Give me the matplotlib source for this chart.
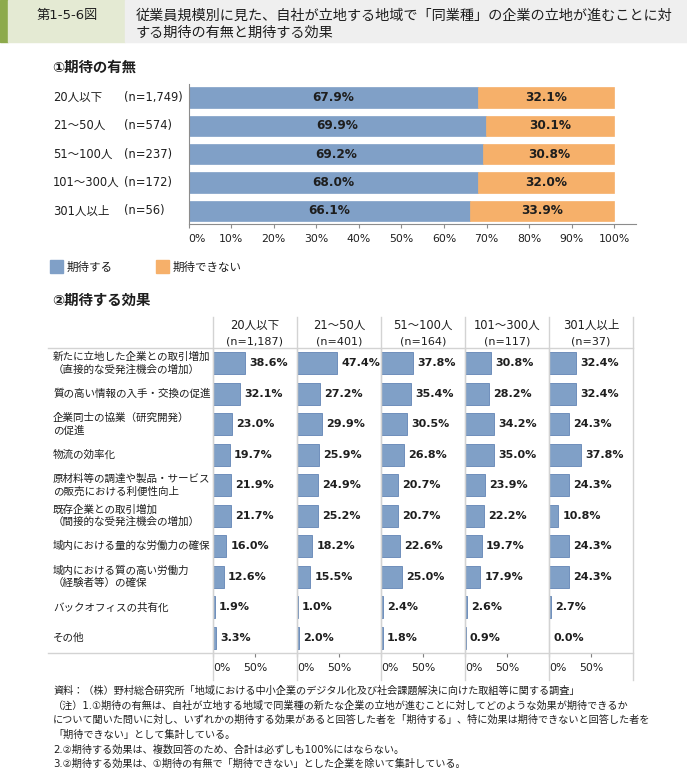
import numpy as np
import matplotlib
matplotlib.use("Agg")
import matplotlib.pyplot as plt
from matplotlib.patches import Rectangle
from matplotlib.lines import Line2D
from matplotlib.transforms import blended_transform_factory

plt.rcParams['font.family'] = ['DejaVu Sans', 'Noto Sans CJK JP']

# ---- データ ----
sizes = ['20人以下', '21～50人', '51～100人', '101～300人', '301人以上']
n_top = ['(n=1,749)', '(n=574)', '(n=237)', '(n=172)', '(n=56)']
expect = [67.9, 69.9, 69.2, 68.0, 66.1]
not_expect = [32.1, 30.1, 30.8, 32.0, 33.9]

n_bottom = ['(n=1,187)', '(n=401)', '(n=164)', '(n=117)', '(n=37)']
effects = [
    '新たに立地した企業との取引増加\n（直接的な受発注機会の増加）',
    '質の高い情報の入手・交換の促進',
    '企業同士の協業（研究開発）\nの促進',
    '物流の効率化',
    '原材料等の調達や製品・サービス\nの販売における利便性向上',
    '既存企業との取引増加\n（間接的な受発注機会の増加）',
    '域内における量的な労働力の確保',
    '域内における質の高い労働力\n（経験者等）の確保',
    'バックオフィスの共有化',
    'その他',
]
eff_20 = [38.6, 32.1, 23.0, 19.7, 21.9, 21.7, 16.0, 12.6, 1.9, 3.3]
eff_21_50 = [47.4, 27.2, 29.9, 25.9, 24.9, 25.2, 18.2, 15.5, 1.0, 2.0]
eff_51_100 = [37.8, 35.4, 30.5, 26.8, 20.7, 20.7, 22.6, 25.0, 2.4, 1.8]
eff_101_300 = [30.8, 28.2, 34.2, 35.0, 23.9, 22.2, 19.7, 17.9, 2.6, 0.9]
eff_301 = [32.4, 32.4, 24.3, 37.8, 24.3, 10.8, 24.3, 24.3, 2.7, 0.0]
eff_all = [eff_20, eff_21_50, eff_51_100, eff_101_300, eff_301]

title = ('従業員規模別に見た、自社が立地する地域で「同業種」の企業の立地が進むことに対\n'
         'する期待の有無と期待する効果')
notes = [
    '資料：（株）野村総合研究所「地域における中小企業のデジタル化及び社会課題解決に向けた取組等に関する調査」',
    '（注）1.①期待の有無は、自社が立地する地域で同業種の新たな企業の立地が進むことに対してどのような効果が期待できるか',
    'について聞いた問いに対し、いずれかの期待する効果があると回答した者を「期待する」、特に効果は期待できないと回答した者を',
    '「期待できない」として集計している。',
    '2.②期待する効果は、複数回答のため、合計は必ずしも100%にはならない。',
    '3.②期待する効果は、①期待の有無で「期待できない」とした企業を除いて集計している。',
]

BLUE = '#80A0C7'
BLUE_EDGE = '#6F8EBB'
ORANGE = '#F6B06A'
TXT = '#1E1E1E'

W, H = 687, 774
fig = plt.figure(figsize=(W / 100, H / 100), dpi=100)


def fx(x):
    return x / W


def fy(y):
    return 1 - y / H


def rect(x0, y0, x1, y1):
    return [x0 / W, 1 - y1 / H, (x1 - x0) / W, (y1 - y0) / H]


def add_box(x0, y0, x1, y1, color):
    fig.patches.append(Rectangle((fx(x0), fy(y1)), (x1 - x0) / W, (y1 - y0) / H,
                                 transform=fig.transFigure, color=color, zorder=0))


def add_line(xs, ys, color='#D3D3D3', lw=1.0):
    fig.lines.append(Line2D([fx(x) for x in xs], [fy(y) for y in ys],
                            transform=fig.transFigure, color=color, lw=lw, zorder=0))


# ---- ヘッダー ----
add_box(0, 0, 8, 42, '#8DAA4C')
add_box(8, 0, 125, 42, '#E4EAD3')
add_box(125, 0, 687, 42, '#EFEFEF')
fig.text(fx(67), fy(15), '第1-5-6図', ha='center', va='center', fontsize=9.5, color=TXT)
fig.text(fx(136), fy(24), title, ha='left', va='center', fontsize=10.2, color=TXT,
         linespacing=1.3)

# ---- ①期待の有無 ----
fig.text(fx(52), fy(68), '①期待の有無', ha='left', va='center', fontsize=10.4,
         fontweight='bold', color=TXT)

ax1 = fig.add_axes(rect(188.5, 84, 636, 224))
y = np.arange(len(sizes))
ax1.barh(y, expect, height=0.72, color=BLUE, edgecolor=BLUE, lw=0.5)
ax1.barh(y, not_expect, left=expect, height=0.72, color=ORANGE, edgecolor=ORANGE, lw=0.5)
for i in range(len(sizes)):
    ax1.text(expect[i] / 2, i, f'{expect[i]:.1f}%', ha='center', va='center',
             fontsize=8.7, fontweight='bold', color=TXT)
    ax1.text(expect[i] + not_expect[i] / 2, i, f'{not_expect[i]:.1f}%', ha='center',
             va='center', fontsize=8.7, fontweight='bold', color=TXT)
ax1.set_xlim(0, 105.05)
ax1.set_ylim(4.46, -0.475)
ax1.set_xticks(range(0, 101, 10))
ax1.set_xticklabels([f'{v}%' for v in range(0, 101, 10)])
ax1.get_xticklabels()[0].set_ha('left')
ax1.set_yticks([])
for s in ['top', 'right']:
    ax1.spines[s].set_visible(False)
for s in ['left', 'bottom']:
    ax1.spines[s].set_color('#8C8C8C')
ax1.tick_params(axis='x', length=3, color='#8C8C8C', labelsize=7.8, labelcolor=TXT, pad=4)

tr = blended_transform_factory(fig.transFigure, ax1.transData)
for i in range(len(sizes)):
    ax1.text(fx(53), i, sizes[i], transform=tr, ha='left', va='center', fontsize=8.3,
             color=TXT, clip_on=False)
    ax1.text(fx(124), i, n_top[i], transform=tr, ha='left', va='center', fontsize=8.3,
             color=TXT, clip_on=False)

# 凡例
add_box(50, 260, 63, 273, BLUE)
fig.text(fx(67), fy(267), '期待する', ha='left', va='center', fontsize=8.3, color=TXT)
add_box(156, 260, 169, 273, ORANGE)
fig.text(fx(173), fy(267), '期待できない', ha='left', va='center', fontsize=8.3, color=TXT)

# ---- ②期待する効果 ----
fig.text(fx(52), fy(301), '②期待する効果', ha='left', va='center', fontsize=10.4,
         fontweight='bold', color=TXT)

lefts = [213, 297, 381, 465, 549]
pw = 84
top_y, bot_y = 348, 653

add_line([48, lefts[-1] + pw], [top_y, top_y])
add_line([48, lefts[-1] + pw], [bot_y, bot_y])
for L in lefts + [lefts[-1] + pw]:
    add_line([L, L], [317, 680])

ry = np.arange(len(effects))
for k, L in enumerate(lefts):
    ax = fig.add_axes(rect(L, top_y, L + pw, bot_y))
    ax.patch.set_alpha(0)
    vals = eff_all[k]
    ax.barh(ry, vals, height=0.72, color=BLUE, edgecolor=BLUE_EDGE, lw=0.7)
    for i, v in enumerate(vals):
        ax.text(v + 5, i, f'{v:.1f}%', ha='left', va='center', fontsize=8,
                fontweight='bold', color=TXT)
    ax.set_xlim(0, 100)
    ax.set_ylim(9.5, -0.5)
    ax.set_xticks([0, 50])
    ax.set_xticklabels(['0%', '50%'])
    ax.get_xticklabels()[0].set_ha('left')
    ax.set_yticks([])
    for s in ['top', 'right', 'bottom']:
        ax.spines[s].set_visible(False)
    ax.spines['left'].set_color('#9A9A9A')
    ax.tick_params(axis='x', length=3, color='#7F7F7F', labelsize=7.8, labelcolor=TXT, pad=4)

    fig.text(fx(L + pw / 2), fy(325), sizes[k], ha='center', va='center', fontsize=8.3,
             color=TXT)
    fig.text(fx(L + pw / 2), fy(342), n_bottom[k], ha='center', va='center', fontsize=8,
             color=TXT)

    if k == 0:
        trb = blended_transform_factory(fig.transFigure, ax.transData)
        for i, lab in enumerate(effects):
            ax.text(fx(53), i, lab, transform=trb, ha='left', va='center', fontsize=7.6,
                    color=TXT, linespacing=1.25, clip_on=False)

# ---- 注記 ----
note_y = [691, 706, 720, 735, 750, 764]
for t, yy in zip(notes, note_y):
    fig.text(fx(53), fy(yy), t, ha='left', va='center', fontsize=7.3, color=TXT)

fig.savefig('out.png', dpi=100)
